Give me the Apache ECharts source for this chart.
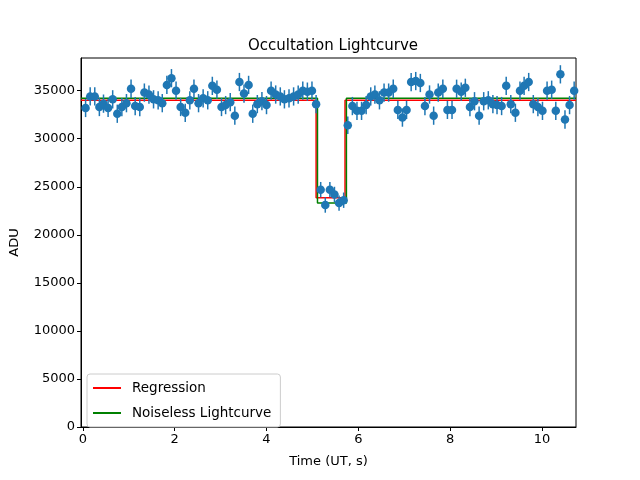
<!DOCTYPE html>
<html><head><meta charset="utf-8">
<script src="https://cdn.jsdelivr.net/npm/echarts@6/dist/echarts.min.js"></script>
<style>html,body{margin:0;padding:0;background:#fff}#c{width:640px;height:480px}</style>
</head><body><div id="c"></div>
<script>
const times = [0.06,0.16,0.26,0.36,0.45,0.55,0.65,0.75,0.85,0.95,1.05,1.14,1.24,1.34,1.44,1.54,1.64,1.73,1.83,1.93,
2.03,2.13,2.23,2.33,2.42,2.52,2.62,2.72,2.82,2.92,3.02,3.11,3.21,3.31,3.41,3.51,3.61,3.70,3.80,3.90,
4.00,4.10,4.20,4.30,4.39,4.49,4.59,4.69,4.79,4.89,4.99,5.08,5.18,5.28,5.38,5.48,5.58,5.68,5.77,5.87,
5.97,6.07,6.17,6.27,6.36,6.46,6.56,6.66,6.76,6.86,6.96,7.05,7.15,7.25,7.35,7.45,7.55,7.64,7.74,7.84,
7.94,8.04,8.14,8.24,8.33,8.43,8.53,8.63,8.73,8.83,8.93,9.02,9.12,9.22,9.32,9.42,9.52,9.61,9.71,9.81,
9.91,10.01,10.11,10.21,10.30,10.40,10.50,10.60,10.70];
const flux = [33200,34400,34400,33300,33650,33200,34100,32600,33300,33700,35200,33400,33300,34800,34600,34100,34000,33700,35600,36300,
35000,33300,32700,34000,35200,33700,34200,34000,35500,35100,33300,33500,33800,32400,35900,34700,35600,32600,33600,33900,
33500,35000,34600,34400,34100,34200,34400,34600,35000,34900,35000,33600,24700,23100,24700,24200,23300,23600,31400,33400,
32900,32900,33500,34400,34600,34000,34800,34800,35200,33000,32200,33000,35900,36000,35800,33400,34600,32400,34800,35200,
33000,33000,35200,34900,35300,33300,33900,32400,33900,34000,33600,33500,33400,35500,33600,32700,35000,35500,35900,33600,
33300,32900,35000,35100,32900,36700,32000,33500,35000];
const fluxErr = [950,950,950,950,950,950,950,950,950,950,950,950,950,950,950,950,950,950,950,950,
950,950,950,950,950,950,950,950,950,950,950,950,950,950,950,950,950,950,950,950,
950,950,950,950,950,950,950,950,950,950,950,950,800,800,800,800,800,800,900,950,
950,950,950,950,950,950,950,950,950,950,950,950,950,950,950,950,950,950,950,950,
950,950,950,950,950,950,950,950,950,950,950,950,950,950,950,950,950,950,950,950,
950,950,950,950,950,950,950,950,950];
const regressionT = [-0.04,5.08,5.08,5.71,5.71,10.74];
const regressionY = [34000,34000,23850,23850,34000,34000];
const noiselessT = [-0.04,5.11,5.11,5.74,5.74,10.74];
const noiselessY = [34200,34200,23300,23300,34200,34200];
const xTicks = [0,2,4,6,8,10];
const yTicks = [0,5000,10000,15000,20000,25000,30000,35000];

const chart = echarts.init(document.getElementById('c'), null, {renderer:'canvas'});
const font = 'DejaVu Sans';
const pts = times.map((t,i)=>[t, flux[i], fluxErr[i]]);
chart.setOption({
  animation:false,
  title:{text:'Occultation Lightcurve', left:328, top:34, textAlign:'center',
    textStyle:{fontFamily:font, fontSize:15, fontWeight:'normal', color:'#000'}},
  grid:{left:80, right:64, top:58, bottom:53, show:true, borderColor:'#000', borderWidth:1, backgroundColor:'transparent'},
  xAxis:{type:'value', min:-0.04, max:10.74,
    name:'Time (UT, s)', nameLocation:'middle', nameGap:28,
    nameTextStyle:{fontFamily:font, fontSize:13, color:'#000'},
    axisLine:{show:true, onZero:false, lineStyle:{color:'#000'}},
    axisTick:{show:true, length:4, lineStyle:{color:'#000'}, customValues:xTicks},
    axisLabel:{fontFamily:font, fontSize:13, color:'#000', margin:6, customValues:xTicks,
      formatter:v=>String(v)},
    splitLine:{show:false}},
  yAxis:{type:'value', min:0, max:38400,
    name:'ADU', nameLocation:'middle', nameGap:60,
    nameTextStyle:{fontFamily:font, fontSize:13, color:'#000'},
    axisLine:{show:true, onZero:false, lineStyle:{color:'#000'}},
    axisTick:{show:true, length:4, lineStyle:{color:'#000'}, customValues:yTicks},
    axisLabel:{fontFamily:font, fontSize:13, color:'#000', margin:6, customValues:yTicks,
      formatter:v=>String(v)},
    splitLine:{show:false}},
  legend:{data:['Regression','Noiseless Lightcurve'], orient:'vertical', left:87, top:374,
    icon:'rect', itemWidth:28, itemHeight:2, itemGap:11,
    padding:[7,9,7,6], borderColor:'#ccc', borderWidth:1, borderRadius:3,
    backgroundColor:'rgba(255,255,255,0.8)',
    textStyle:{fontFamily:font, fontSize:13.5, color:'#000', padding:[0,0,0,6]}},
  series:[
    {name:'Regression', type:'line', data:regressionT.map((t,i)=>[t,regressionY[i]]),
      symbol:'none', lineStyle:{color:'#ff0000', width:1.5}, itemStyle:{color:'#ff0000'}, z:2},
    {name:'Noiseless Lightcurve', type:'line', data:noiselessT.map((t,i)=>[t,noiselessY[i]]),
      symbol:'none', lineStyle:{color:'#008000', width:1.5}, itemStyle:{color:'#008000'}, z:3},
    {name:'err', type:'custom', data:pts, z:4, clip:true,
      renderItem:function(params, api){
        const t=api.value(0), v=api.value(1), e=api.value(2);
        const p1=api.coord([t,v-e]), p2=api.coord([t,v+e]);
        return {type:'line', shape:{x1:p1[0],y1:p1[1],x2:p2[0],y2:p2[1]},
          style:{stroke:'#1f77b4', lineWidth:1.5}};
      }},
    {name:'data', type:'scatter', data:pts.map(p=>[p[0],p[1]]), symbol:'circle', symbolSize:8.5,
      itemStyle:{color:'#1f77b4', opacity:1}, z:5, clip:true}
  ]
});
</script></body></html>
